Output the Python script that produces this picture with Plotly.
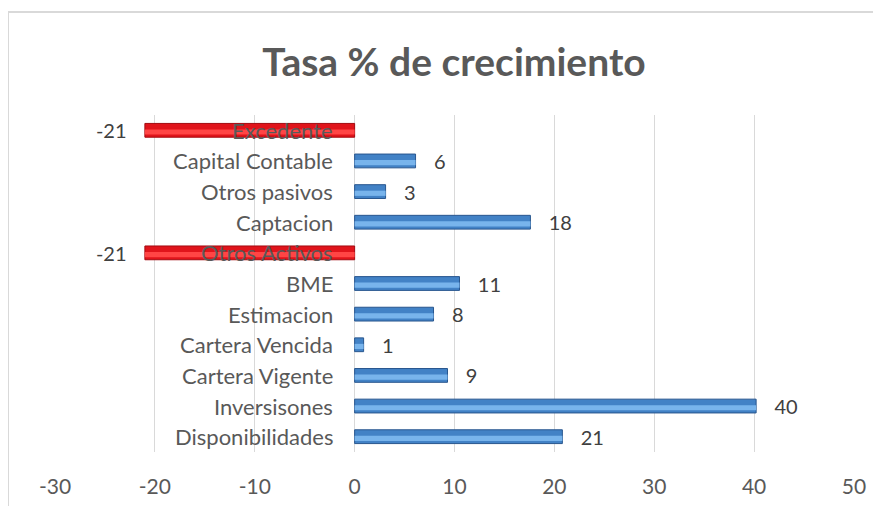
import plotly.graph_objects as go

categories = ["Disponibilidades", "Inversisones", "Cartera Vigente", "Cartera Vencida",
              "Estimacion", "BME", "Otros Activos", "Captacion", "Otros pasivos",
              "Capital Contable", "Excedente"]
values = [20.8, 40.2, 9.3, 0.9, 7.9, 10.5, -21.0, 17.6, 3.1, 6.1, -21.0]
value_labels = ["21", "40", "9", "1", "8", "11", "-21", "18", "3", "6", "-21"]
x_ticks = [-30, -20, -10, 0, 10, 20, 30, 40, 50]
x_tick_labels = ["-30", "-20", "-10", "0", "10", "20", "30", "40", "50"]

FONT = "Lato"
PAD = "\u00a0\u00a0\u00a0"
bar_text = [(PAD + s) if v >= 0 else (s + PAD) for s, v in zip(value_labels, values)]
base_colors = ["#e0141b" if v < 0 else "#4282c6" for v in values]
line_colors = ["#a30a10" if v < 0 else "#28568e" for v in values]
hi_colors = ["#ff4545" if v < 0 else "#78b4ec" for v in values]

fig = go.Figure()
fig.add_trace(go.Bar(
    y=categories, x=values, orientation="h", width=0.45,
    marker=dict(color=base_colors, line=dict(color=line_colors, width=1)),
    text=bar_text, textposition="outside", cliponaxis=False, constraintext="none",
    textfont=dict(family=FONT, size=20, color="#404040"),
    showlegend=False, hoverinfo="skip",
))
fig.add_trace(go.Bar(
    y=categories, x=values, orientation="h", width=0.17, offset=-0.14,
    marker=dict(color=hi_colors, line=dict(width=0)),
    showlegend=False, hoverinfo="skip",
))

annotations = [
    dict(x=0, y=c, xref="x", yref="y", text=c, showarrow=False,
         xanchor="right", yanchor="middle", xshift=-20,
         font=dict(family=FONT, size=22, color="#595959"))
    for c in categories
]

left = (8 - 55) / 799
top = (452 - 12) / 337

fig.update_layout(
    width=873, height=498,
    margin=dict(l=47, r=27, t=107, b=54),
    paper_bgcolor="white", plot_bgcolor="white",
    barmode="overlay",
    title=dict(text="<b>Tasa % de crecimiento</b>", x=(454 - 8) / 873, xanchor="center",
               y=1 - (62 - 8) / 498, yanchor="middle",
               font=dict(family=FONT, size=39, color="#595959")),
    xaxis=dict(range=[-30, 50], tickvals=x_ticks, ticktext=x_tick_labels,
               automargin=False,
               showgrid=True, gridcolor="#d9d9d9", gridwidth=1,
               zeroline=True, zerolinecolor="#d9d9d9", zerolinewidth=1,
               showline=False, ticks="", ticklabelstandoff=20,
               tickfont=dict(family=FONT, size=21, color="#595959")),
    yaxis=dict(range=[-0.5, 10.5], showticklabels=False, showgrid=False,
               automargin=False,
               zeroline=False, showline=False, ticks=""),
    annotations=annotations,
    shapes=[
        dict(type="line", xref="paper", yref="paper", x0=left, x1=1.5, y0=top, y1=top,
             line=dict(color="#d9d9d9", width=2), layer="below"),
        dict(type="line", xref="paper", yref="paper", x0=left, x1=left, y0=top, y1=-0.5,
             line=dict(color="#d9d9d9", width=2), layer="below"),
    ],
)

fig.write_html("out.html")
